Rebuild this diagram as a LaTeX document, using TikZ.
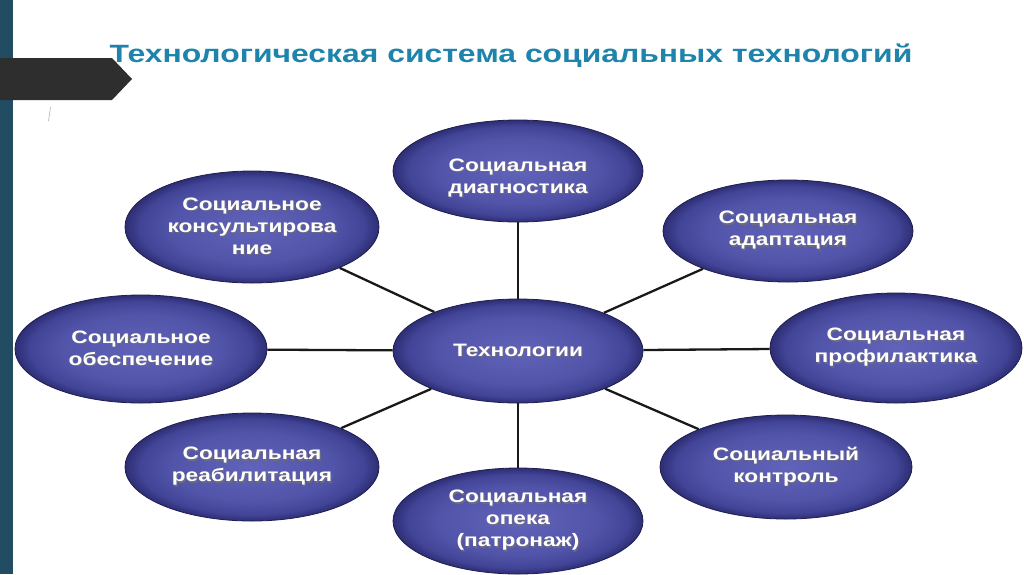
\documentclass[tikz,border=0pt]{standalone}
\usepackage{fontspec}
\setmainfont{Liberation Sans}
\newfontfamily\titlefont[FakeStretch=1.275]{Liberation Sans Bold}
\newfontfamily\ellfont[FakeStretch=1.26]{Liberation Sans Bold}
\usetikzlibrary{shapes.geometric}
\definecolor{barcol}{HTML}{224C62}
\definecolor{tabcol}{HTML}{2E2E2E}
\definecolor{titlecol}{HTML}{1F84AC}
\definecolor{ellc0}{HTML}{6163BA}
\definecolor{ellc1}{HTML}{5254A9}
\definecolor{ellc2}{HTML}{424497}
\definecolor{ellc3}{HTML}{2D2E74}
\definecolor{ellborder}{HTML}{1E1E50}
\definecolor{shadowgray}{HTML}{6A6A80}
\pgfdeclareradialshading{ellshade}{\pgfpoint{0bp}{0bp}}{color(0bp)=(ellc0); color(16bp)=(ellc1); color(22bp)=(ellc2); color(25bp)=(ellc3); color(50bp)=(ellc3)}
\newcommand\shl[1]{\leavevmode\rlap{\hspace{1.2pt}\raisebox{-1.2pt}{\textcolor{shadowgray}{#1}}}\textcolor{white}{#1}}
\tikzset{
  ell/.style={ellipse, inner sep=0pt, draw=ellborder, line width=0.8pt,
    shading=ellshade, align=center,
    font=\ellfont\fontsize{18}{22}\selectfont},
  conn/.style={line width=2.3pt, draw=black!90}
}
\begin{document}
\begin{tikzpicture}[x=1pt,y=-1pt]
\useasboundingbox (0,0) rectangle (1024,574);
\fill[white] (0,0) rectangle (1024,574);
% left bar
\fill[barcol] (0,0) rectangle (12.5,574);
% tab
\fill[tabcol] (0,58) -- (112,58) -- (132,79) -- (112,100) -- (0,100) -- cycle;
% stray mark
\draw[gray!60, line width=0.6pt] (50.5,107) -- (48.5,121);
% title
\node[text=titlecol, font=\titlefont\fontsize{25}{28}\selectfont, anchor=base] (title) at (511,62) {Технологическая система социальных технологий};
% ellipses
\node[ell, minimum width=250pt, minimum height=104pt] (c) at (518,351) {\shl{Технологии}};
\node[ell, minimum width=250pt, minimum height=102pt] (n) at (518,171) {\rule{0pt}{28pt}\shl{Социальная}\\\shl{диагностика}};
\node[ell, minimum width=254pt, minimum height=112pt] (nw) at (252,227) {\shl{Социальное}\\\shl{консультирова}\\\shl{ние}};
\node[ell, minimum width=250pt, minimum height=102pt] (ne) at (788,231) {\shl{Социальная}\\\shl{адаптация}};
\node[ell, minimum width=252pt, minimum height=108pt] (w) at (141,349) {\shl{Социальное}\\\shl{обеспечение}};
\node[ell, minimum width=252pt, minimum height=110pt] (e) at (896,348) {\shl{Социальная}\\\shl{профилактика}};
\node[ell, minimum width=254pt, minimum height=108pt] (sw) at (252,467) {\shl{Социальная}\\\shl{реабилитация}};
\node[ell, minimum width=250pt, minimum height=106pt] (s) at (518,521) {\shl{Социальная}\\\shl{опека}\\\shl{(патронаж)}};
\node[ell, minimum width=252pt, minimum height=104pt] (se) at (786,467) {\shl{Социальный}\\\shl{контроль}};
% connectors
\foreach \t in {n,nw,ne,w,e,sw,s,se} \draw[conn] (c) -- (\t);
\end{tikzpicture}
\end{document}
